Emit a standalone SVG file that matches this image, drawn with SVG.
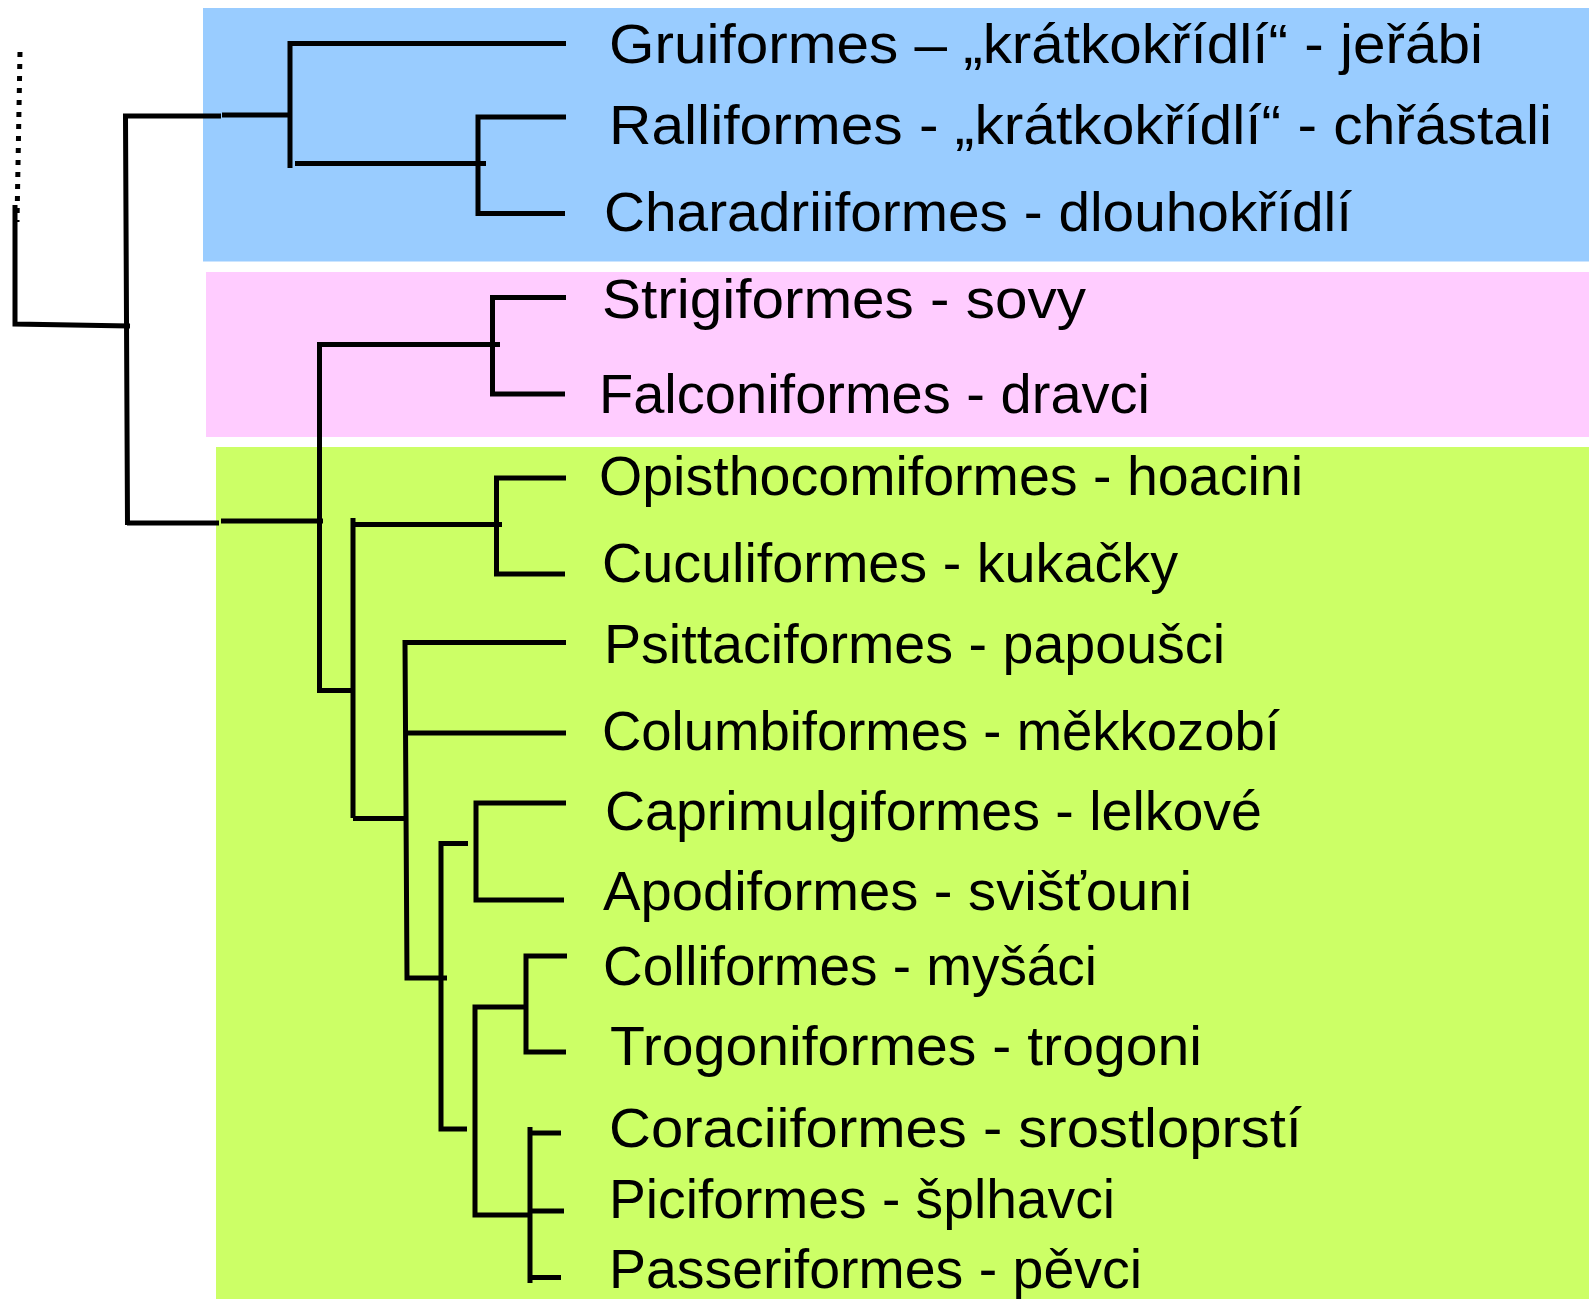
<svg xmlns="http://www.w3.org/2000/svg" width="1589" height="1299" viewBox="0 0 1589 1299">
<style>
.lbl{font-family:"Liberation Sans",Arial,sans-serif;font-size:56px;fill:#000}
.br{fill:none;stroke:#000;stroke-width:5;stroke-linejoin:miter}
.dot{fill:none;stroke:#000;stroke-width:5;stroke-dasharray:5 7}
</style>
<rect width="1589" height="1299" fill="#fff"/>
<g id="band-blue"><rect x="203" y="8" width="1386" height="253.5" fill="#99CCFF"/></g>
<g id="band-pink"><rect x="206" y="272" width="1383" height="165" fill="#FFCCFF"/></g>
<g id="band-green"><rect x="216" y="447" width="1373" height="852" fill="#CCFF66"/></g>
<g id="connectors">
<line class="dot" x1="20" y1="52" x2="17" y2="222"/>
<path class="br" d="M15,205 V324 L130,326"/>
<path class="br" d="M127.5,525 L125.5,116 H221"/>
<path class="br" d="M222,115 H291"/>
<path class="br" d="M566,43.5 H290 V168"/>
<path class="br" d="M295,163.5 H486"/>
<path class="br" d="M566,117 H478 V213.5 H565"/>
<path class="br" d="M566,297.5 H492.5 V394 H565"/>
<path class="br" d="M500,344.5 H319.5 V690.5 H353"/>
<path class="br" d="M127,523 H219"/>
<path class="br" d="M221,521 H323"/>
<path class="br" d="M353,518 V818"/>
<path class="br" d="M502,524.5 H353"/>
<path class="br" d="M566,478 H496.5 V574 H565"/>
<path class="br" d="M566,642.5 H405 L407,978 H447"/>
<path class="br" d="M566,733 H405"/>
<path class="br" d="M353,818.5 H405"/>
<path class="br" d="M468,843.5 H441 V1129 H467"/>
<path class="br" d="M566,803 H476 V900 H564"/>
<path class="br" d="M527,1007 H475 V1215 H530"/>
<path class="br" d="M567,956 H526 V1052 H566"/>
<path class="br" d="M530,1127 V1283"/>
<path class="br" d="M530,1133 H561"/>
<path class="br" d="M531,1211 H564"/>
<path class="br" d="M530,1277.5 H561"/>
</g>
<g id="gruiformes"><text class="lbl" x="609" y="63" textLength="874" lengthAdjust="spacingAndGlyphs">Gruiformes – „krátkokřídlí“ - jeřábi</text></g>
<g id="ralliformes"><text class="lbl" x="609" y="144" textLength="943" lengthAdjust="spacingAndGlyphs">Ralliformes - „krátkokřídlí“ - chřástali</text></g>
<g id="charadriiformes"><text class="lbl" x="604" y="231" textLength="748" lengthAdjust="spacingAndGlyphs">Charadriiformes - dlouhokřídlí</text></g>
<g id="strigiformes"><text class="lbl" x="602" y="318" textLength="484" lengthAdjust="spacingAndGlyphs">Strigiformes - sovy</text></g>
<g id="falconiformes"><text class="lbl" x="599" y="413" textLength="551" lengthAdjust="spacingAndGlyphs">Falconiformes - dravci</text></g>
<g id="opisthocomiformes"><text class="lbl" x="599" y="495" textLength="704" lengthAdjust="spacingAndGlyphs">Opisthocomiformes - hoacini</text></g>
<g id="cuculiformes"><text class="lbl" x="602" y="582" textLength="576" lengthAdjust="spacingAndGlyphs">Cuculiformes - kukačky</text></g>
<g id="psittaciformes"><text class="lbl" x="604" y="663" textLength="621" lengthAdjust="spacingAndGlyphs">Psittaciformes - papoušci</text></g>
<g id="columbiformes"><text class="lbl" x="602" y="750" textLength="678" lengthAdjust="spacingAndGlyphs">Columbiformes - měkkozobí</text></g>
<g id="caprimulgiformes"><text class="lbl" x="605" y="830" textLength="657" lengthAdjust="spacingAndGlyphs">Caprimulgiformes - lelkové</text></g>
<g id="apodiformes"><text class="lbl" x="603" y="910" textLength="589" lengthAdjust="spacingAndGlyphs">Apodiformes - svišťouni</text></g>
<g id="colliformes"><text class="lbl" x="603" y="985" textLength="494" lengthAdjust="spacingAndGlyphs">Colliformes - myšáci</text></g>
<g id="trogoniformes"><text class="lbl" x="610" y="1065" textLength="592" lengthAdjust="spacingAndGlyphs">Trogoniformes - trogoni</text></g>
<g id="coraciiformes"><text class="lbl" x="609" y="1147" textLength="693" lengthAdjust="spacingAndGlyphs">Coraciiformes - srostloprstí</text></g>
<g id="piciformes"><text class="lbl" x="609" y="1218" textLength="506" lengthAdjust="spacingAndGlyphs">Piciformes - šplhavci</text></g>
<g id="passeriformes"><text class="lbl" x="609" y="1288" textLength="533" lengthAdjust="spacingAndGlyphs">Passeriformes - pěvci</text></g>
</svg>
